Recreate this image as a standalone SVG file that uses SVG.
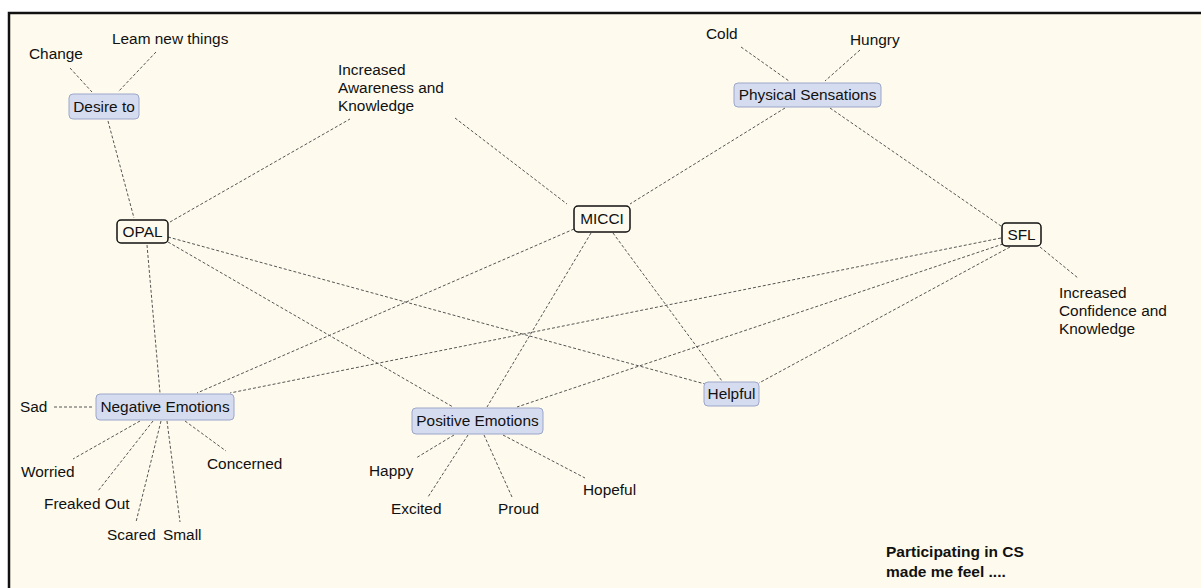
<svg xmlns="http://www.w3.org/2000/svg" width="1201" height="588" viewBox="0 0 1201 588">
<style>
text{font-family:"Liberation Sans",Arial,sans-serif;font-size:15.4px;fill:#111}
.c{text-anchor:middle}
.b{font-weight:bold;font-size:15.5px}
.topic{fill:#d6dcef;stroke:#9ba6c9;stroke-width:1}
.main{fill:#fefbee;stroke:#111;stroke-width:1.5}
#connectors line{stroke:#555;stroke-width:1;stroke-dasharray:3,2;fill:none}
</style>
<rect x="0" y="0" width="1201" height="588" fill="#ffffff"/>
<rect x="9" y="13" width="1200" height="590" fill="#fefbee" stroke="#111" stroke-width="2.5"/>
<g id="connectors">
<line x1="70" y1="68" x2="92" y2="92"/>
<line x1="156" y1="52" x2="118" y2="92"/>
<line x1="108" y1="121" x2="134" y2="218"/>
<line x1="170" y1="222" x2="350" y2="119"/>
<line x1="455" y1="118" x2="567" y2="204"/>
<line x1="741" y1="47" x2="789" y2="81"/>
<line x1="860" y1="50" x2="825" y2="81"/>
<line x1="785" y1="108" x2="630" y2="204"/>
<line x1="830" y1="108" x2="1001" y2="226"/>
<line x1="1040" y1="247" x2="1078" y2="278"/>
<line x1="147" y1="245" x2="160" y2="393"/>
<line x1="168" y1="242" x2="453" y2="407"/>
<line x1="168" y1="237" x2="705" y2="384"/>
<line x1="574" y1="229" x2="197" y2="393"/>
<line x1="591" y1="233" x2="487" y2="407"/>
<line x1="613" y1="233" x2="722" y2="381"/>
<line x1="1001" y1="238" x2="230" y2="393"/>
<line x1="1003" y1="244" x2="517" y2="407"/>
<line x1="1010" y1="247" x2="759" y2="383"/>
<line x1="54" y1="407" x2="93" y2="407"/>
<line x1="140" y1="421" x2="73" y2="459"/>
<line x1="153" y1="421" x2="98" y2="491"/>
<line x1="161" y1="421" x2="136" y2="522"/>
<line x1="167" y1="421" x2="180" y2="522"/>
<line x1="185" y1="421" x2="226" y2="451"/>
<line x1="454" y1="435" x2="416" y2="458"/>
<line x1="468" y1="435" x2="428" y2="497"/>
<line x1="484" y1="435" x2="512" y2="497"/>
<line x1="503" y1="435" x2="585" y2="478"/>
</g>
<g id="desire"><rect class="topic" x="69" y="94" width="70" height="25" rx="4"/><text class="c" x="104" y="112">Desire to</text></g>
<g id="change"><text x="29" y="59">Change</text></g>
<g id="learn"><text x="112" y="44">Leam new things</text></g>
<g id="opal"><rect class="main" x="117" y="220" width="51" height="23" rx="4"/><text class="c" x="142.5" y="237">OPAL</text></g>
<g id="awareness"><text x="338" y="75">Increased</text><text x="338" y="93">Awareness and</text><text x="338" y="111">Knowledge</text></g>
<g id="micci"><rect class="main" x="574" y="206" width="56" height="26" rx="4"/><text class="c" x="602" y="224">MICCI</text></g>
<g id="physical"><rect class="topic" x="734" y="83" width="147" height="24" rx="4"/><text class="c" x="807.5" y="100">Physical Sensations</text></g>
<g id="cold"><text x="706" y="39">Cold</text></g>
<g id="hungry"><text x="850" y="45">Hungry</text></g>
<g id="sfl"><rect class="main" x="1002" y="223" width="39" height="23" rx="4"/><text class="c" x="1021.5" y="240">SFL</text></g>
<g id="confidence"><text x="1059" y="298">Increased</text><text x="1059" y="316">Confidence and</text><text x="1059" y="334">Knowledge</text></g>
<g id="negative"><rect class="topic" x="96" y="394" width="138" height="26" rx="4"/><text class="c" x="165" y="412">Negative Emotions</text></g>
<g id="sad"><text x="20" y="412">Sad</text></g>
<g id="worried"><text x="21" y="477">Worried</text></g>
<g id="freaked"><text x="44" y="509">Freaked Out</text></g>
<g id="scared"><text x="107" y="540">Scared</text></g>
<g id="small"><text x="163" y="540">Small</text></g>
<g id="concerned"><text x="207" y="469">Concerned</text></g>
<g id="positive"><rect class="topic" x="412" y="408" width="131" height="26" rx="4"/><text class="c" x="477.5" y="426">Positive Emotions</text></g>
<g id="happy"><text x="369" y="476">Happy</text></g>
<g id="excited"><text x="391" y="514">Excited</text></g>
<g id="proud"><text x="498" y="514">Proud</text></g>
<g id="hopeful"><text x="583" y="495">Hopeful</text></g>
<g id="helpful"><rect class="topic" x="704" y="382" width="55" height="24" rx="4"/><text class="c" x="731.5" y="399">Helpful</text></g>
<g id="caption"><text class="b" x="886" y="557">Participating in CS</text><text class="b" x="886" y="577">made me feel ....</text></g>
</svg>
